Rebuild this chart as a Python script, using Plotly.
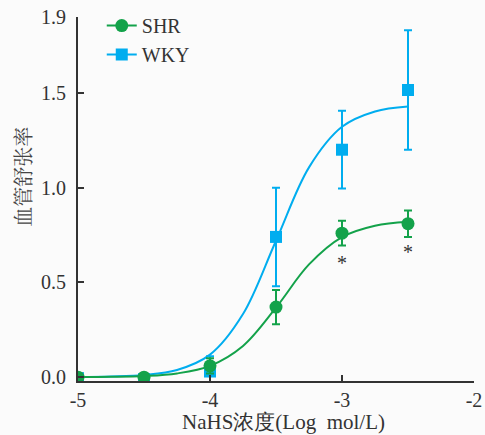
import plotly.graph_objects as go

# ---- data ----
log_conc = [-5.0, -4.5, -4.0, -3.5, -3.0, -2.5]
shr_mean = [0.00, 0.00, 0.06, 0.37, 0.76, 0.81]
shr_err = [0.00, 0.00, 0.04, 0.09, 0.065, 0.07]
wky_mean = [-0.005, -0.01, 0.03, 0.74, 1.20, 1.515]
wky_err = [0.00, 0.00, 0.08, 0.26, 0.205, 0.315]

# fitted curves
curve_x = [-5.0, -4.75, -4.5, -4.25, -4.0, -3.75, -3.5, -3.25, -3.0, -2.75, -2.5]
shr_curve = [0.001, 0.002, 0.006, 0.020, 0.060, 0.165, 0.367, 0.595, 0.739, 0.799, 0.820]
wky_curve = [0.001, 0.004, 0.012, 0.038, 0.119, 0.333, 0.720, 1.107, 1.321, 1.402, 1.428]

sig_x = [-3.0, -2.5]
sig_y = [0.60, 0.66]

x_ticks = [-5, -4, -3, -2]
y_ticks = [0.0, 0.5, 1.0, 1.5, 1.9]
y_tick_text = ["0.0", "0.5", "1.0", "1.5", "1.9"]

GREEN = "#13a24a"
BLUE = "#00adef"
AXIS = "#333333"
FONT = "Liberation Serif"
CJK = "Noto Serif CJK SC"

fig = go.Figure()

# fitted curves
fig.add_trace(go.Scatter(x=curve_x, y=wky_curve, mode="lines", line=dict(color=BLUE, width=2, shape="spline"),
                         showlegend=False, hoverinfo="skip"))
fig.add_trace(go.Scatter(x=curve_x, y=shr_curve, mode="lines", line=dict(color=GREEN, width=2, shape="spline"),
                         showlegend=False, hoverinfo="skip"))

# points with error bars
fig.add_trace(go.Scatter(x=log_conc, y=wky_mean, mode="markers", showlegend=False,
                         marker=dict(symbol="square", size=12, color=BLUE),
                         error_y=dict(type="data", array=wky_err, color=BLUE, thickness=2, width=4)))
fig.add_trace(go.Scatter(x=log_conc, y=shr_mean, mode="markers", showlegend=False,
                         marker=dict(symbol="circle", size=13, color=GREEN),
                         error_y=dict(type="data", array=shr_err, color=GREEN, thickness=2, width=4)))

# legend entries (line + symbol)
fig.add_trace(go.Scatter(x=[None], y=[None], mode="lines+markers", name="SHR", legendrank=1,
                         line=dict(width=2, color=GREEN), marker=dict(symbol="circle", size=13, color=GREEN)))
fig.add_trace(go.Scatter(x=[None], y=[None], mode="lines+markers", name="WKY", legendrank=2,
                         line=dict(width=2, color=BLUE), marker=dict(symbol="square", size=12, color=BLUE)))

for sx, sy in zip(sig_x, sig_y):
    fig.add_annotation(x=sx, y=sy, text="*", showarrow=False, font=dict(family=FONT, size=20, color="#333"))

fig.add_annotation(xref="paper", yref="paper", x=-0.14, y=0.56, xanchor="center", yanchor="middle",
                   text="血管舒张率", textangle=-90,
                   showarrow=False, font=dict(family=CJK, size=20, color="#444"))
fig.add_annotation(xref="paper", yref="paper", x=0.52, y=-0.075, xanchor="center", yanchor="top",
                   text="NaHS浓度(Log&nbsp;&nbsp;mol/L)", showarrow=False,
                   font=dict(family=FONT, size=21, color="#333"))

fig.update_layout(
    width=485, height=435,
    margin=dict(l=78, r=11, t=17, b=54, autoexpand=False),
    paper_bgcolor="#fbfbfb", plot_bgcolor="#fbfbfb",
    font=dict(family=FONT, size=20, color="#333"),
    legend=dict(x=0.06, y=1.03, xanchor="left", yanchor="top", bgcolor="rgba(0,0,0,0)",
                font=dict(family=FONT, size=20, color="#333"), itemwidth=30, tracegroupgap=0),
)
fig.update_xaxes(range=[-5, -2], tickvals=x_ticks, ticktext=[str(v) for v in x_ticks], automargin=False,
                 showgrid=False, zeroline=False, showline=True, linecolor=AXIS, linewidth=2,
                 ticks="inside", ticklen=6, tickwidth=2, tickcolor=AXIS, tickfont=dict(size=20))
fig.update_yaxes(range=[-0.02, 1.9001], tickvals=y_ticks, ticktext=y_tick_text, automargin=False,
                 showgrid=False, zeroline=False, showline=True, linecolor=AXIS, linewidth=2,
                 ticks="inside", ticklen=6, tickwidth=2, tickcolor=AXIS, tickfont=dict(size=20),
                 ticklabelstandoff=6)

# remove the default 8px page margin so the figure sits at the window's top-left corner
fig.write_html("out.html", config={"displayModeBar": False},
               post_script="document.body.style.margin='0';document.body.style.overflow='hidden';")
